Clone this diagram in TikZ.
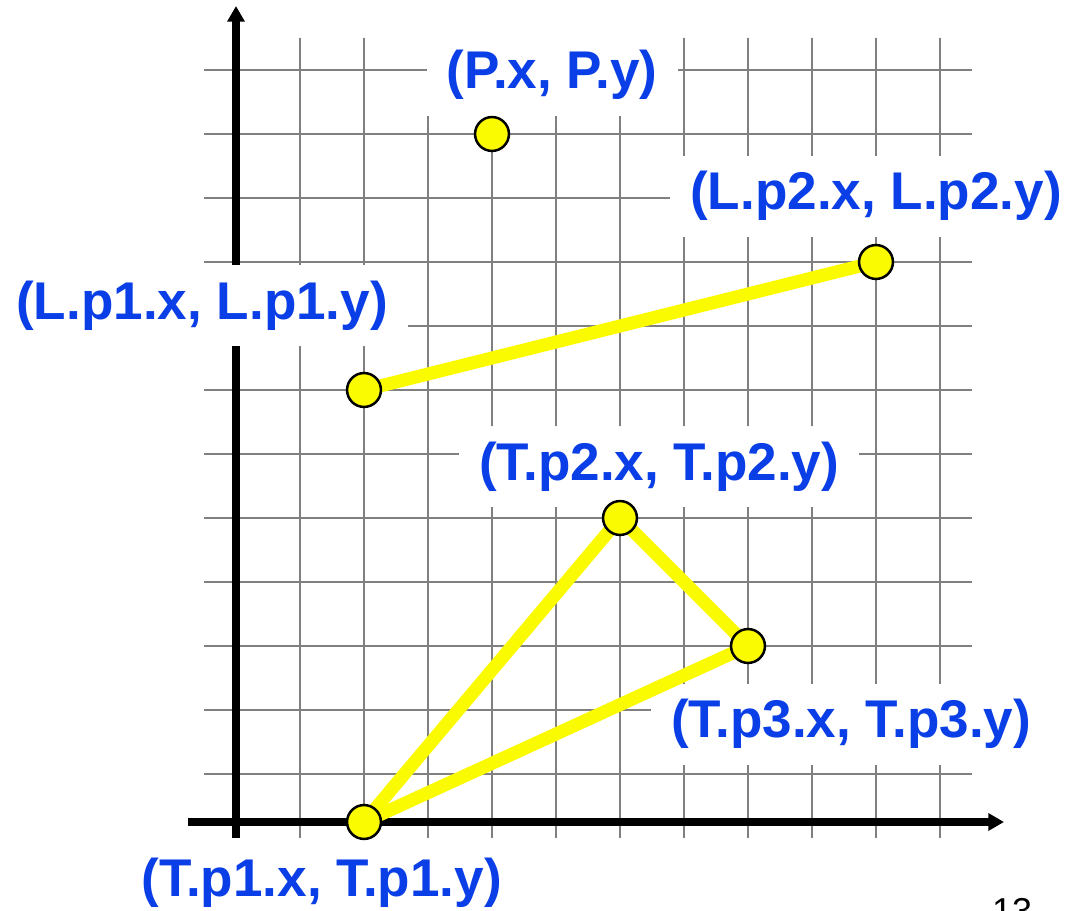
\documentclass[tikz,border=0pt]{standalone}
\usepackage{fontspec}
\setmainfont{Liberation Sans}
\usetikzlibrary{arrows.meta}
\definecolor{labelblue}{RGB}{10,62,230}
\definecolor{segyellow}{RGB}{250,250,0}

\begin{document}
\begin{tikzpicture}[every node/.style={font=\fontsize{23.6}{28}\selectfont\bfseries},
  gridline/.style={draw=gray, line width=0.85pt},
  axis/.style={line width=3.5pt, -{Triangle[length=7pt, width=7.5pt]}},
  seg/.style={draw=segyellow, line width=5.8pt, line join=round},
  pt/.style={circle, draw=black, line width=1.1pt, fill=segyellow, minimum size=0.53cm, inner sep=0pt},
  lbl/.style={fill=white, text=labelblue, inner xsep=9pt, inner ysep=7pt}]
  \useasboundingbox (-3.6875,-1.1406) rectangle (13.0156,13.0938);

  % Grid
  \foreach \y in {1,...,12} \draw[gridline] (-0.5,\y) -- (11.5,\y);
  \foreach \x in {1,...,11} \draw[gridline] (\x,0) -- (\x,12.5);

  % Axes
  \draw[axis] (-0.75,0.25) -- (12,0.25);
  \draw[axis] (0,0) -- (0,13);

  % Labels (white boxes hide the grid)
  \node[lbl] (Plbl) at (4.94,11.92) {(P.x, P.y)};
  \node[lbl] (Lblb) at (10.0,10.03) {(L.p2.x, L.p2.y)};
  \node[lbl] (Lbla) at (-0.53,8.32) {(L.p1.x, L.p1.y)};
  \node[lbl] (Tlblb) at (6.61,5.80) {(T.p2.x, T.p2.y)};
  \node[lbl] (Tlblc) at (9.61,1.78) {(T.p3.x, T.p3.y)};
  \node[lbl] (Tlbla) at (1.34,-0.70) {(T.p1.x, T.p1.y)};

  % Points
  \coordinate (P) at (4,11);
  \coordinate (La) at (2,7);
  \coordinate (Lb) at (10,9);
  \coordinate (Ta) at (2,0.25);
  \coordinate (Tb) at (6,5);
  \coordinate (Tc) at (8,3);

  % Line and triangle
  \draw[seg] (La) -- (Lb);
  \draw[seg] (Ta) -- (Tb) -- (Tc) -- cycle;

  \foreach \p in {P,La,Lb,Ta,Tb,Tc} \node[pt] (\p dot) at (\p) {};

  % Slide leftovers at the edges
  \node[anchor=base west, inner sep=0pt] (semi) at (-3.89,0.72) {;};
  \node[font=\fontsize{16}{18}\selectfont, anchor=base, inner sep=0pt] (pagenum) at (12.125,-1.33) {13};
\end{tikzpicture}
\end{document}
